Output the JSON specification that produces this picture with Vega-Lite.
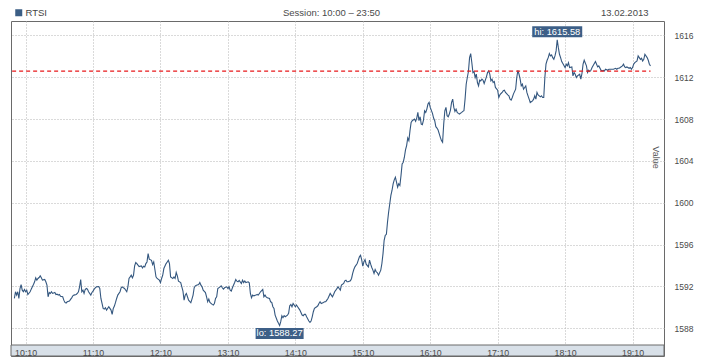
{
  "$schema": "https://vega.github.io/schema/vega-lite/v6.json",
  "width": 653,
  "height": 335,
  "autosize": "none",
  "padding": {"left": 11, "top": 21, "right": 54, "bottom": 4},
  "background": "white",
  "config": {
    "font": "Liberation Sans",
    "view": {"stroke": "#6a6a6a", "strokeWidth": 1}
  },
  "data": {
    "format": {"parse": {"t": "date:'%H:%M'"}},
    "values": [
{"t":"10:00","v":1590.85},{"t":"10:01","v":1591.49},{"t":"10:02","v":1591.17},{"t":"10:03","v":1591.49},{"t":"10:04","v":1590.85},{"t":"10:05","v":1591.80},{"t":"10:06","v":1592.18},{"t":"10:07","v":1591.64},{"t":"10:08","v":1591.49},{"t":"10:09","v":1591.71},
{"t":"10:10","v":1591.49},{"t":"10:11","v":1591.64},{"t":"10:12","v":1591.23},{"t":"10:14","v":1591.49},{"t":"10:15","v":1591.74},{"t":"10:16","v":1591.96},{"t":"10:17","v":1592.18},{"t":"10:18","v":1592.44},{"t":"10:19","v":1592.82},{"t":"10:20","v":1592.60},
{"t":"10:21","v":1592.76},{"t":"10:22","v":1592.85},{"t":"10:23","v":1593.01},{"t":"10:24","v":1592.82},{"t":"10:25","v":1592.60},{"t":"10:27","v":1592.66},{"t":"10:28","v":1592.44},{"t":"10:29","v":1592.12},{"t":"10:30","v":1591.01},{"t":"10:31","v":1591.42},
{"t":"10:32","v":1591.33},{"t":"10:33","v":1591.49},{"t":"10:34","v":1591.33},{"t":"10:36","v":1591.42},{"t":"10:37","v":1591.23},{"t":"10:38","v":1591.26},{"t":"10:39","v":1591.17},{"t":"10:40","v":1591.23},{"t":"10:41","v":1591.07},{"t":"10:43","v":1591.01},
{"t":"10:44","v":1590.69},{"t":"10:45","v":1590.47},{"t":"10:46","v":1590.41},{"t":"10:47","v":1590.53},{"t":"10:49","v":1590.60},{"t":"10:50","v":1590.76},{"t":"10:51","v":1590.91},{"t":"10:52","v":1591.10},{"t":"10:53","v":1591.17},{"t":"10:55","v":1591.23},
{"t":"10:56","v":1591.33},{"t":"10:57","v":1591.49},{"t":"10:58","v":1591.96},{"t":"10:59","v":1592.66},{"t":"11:00","v":1591.49},{"t":"11:01","v":1591.64},{"t":"11:02","v":1591.33},{"t":"11:03","v":1591.71},{"t":"11:04","v":1591.80},{"t":"11:05","v":1591.74},
{"t":"11:06","v":1591.49},{"t":"11:08","v":1591.17},{"t":"11:09","v":1591.42},{"t":"11:10","v":1591.55},{"t":"11:11","v":1591.74},{"t":"11:12","v":1591.87},{"t":"11:13","v":1591.96},{"t":"11:15","v":1591.99},{"t":"11:16","v":1591.80},{"t":"11:17","v":1590.85},
{"t":"11:18","v":1590.37},{"t":"11:19","v":1589.90},{"t":"11:20","v":1589.83},{"t":"11:21","v":1589.96},{"t":"11:22","v":1589.74},{"t":"11:24","v":1590.06},{"t":"11:25","v":1589.90},{"t":"11:26","v":1589.74},{"t":"11:27","v":1589.33},{"t":"11:28","v":1589.90},
{"t":"11:29","v":1590.12},{"t":"11:30","v":1590.47},{"t":"11:31","v":1590.85},{"t":"11:32","v":1591.17},{"t":"11:34","v":1591.49},{"t":"11:35","v":1591.87},{"t":"11:36","v":1591.96},{"t":"11:37","v":1591.87},{"t":"11:38","v":1591.80},{"t":"11:40","v":1591.49},
{"t":"11:41","v":1591.96},{"t":"11:42","v":1592.76},{"t":"11:43","v":1592.91},{"t":"11:44","v":1593.07},{"t":"11:45","v":1592.82},{"t":"11:46","v":1593.07},{"t":"11:47","v":1593.96},{"t":"11:48","v":1594.28},{"t":"11:49","v":1594.18},{"t":"11:50","v":1594.03},
{"t":"11:51","v":1593.90},{"t":"11:53","v":1593.96},{"t":"11:54","v":1593.77},{"t":"11:55","v":1593.93},{"t":"11:56","v":1593.87},{"t":"11:57","v":1594.18},{"t":"11:58","v":1594.34},{"t":"11:59","v":1595.14},{"t":"12:00","v":1594.60},{"t":"12:02","v":1594.50},
{"t":"12:03","v":1594.09},{"t":"12:04","v":1594.34},{"t":"12:05","v":1593.64},{"t":"12:06","v":1592.91},{"t":"12:07","v":1592.76},{"t":"12:09","v":1592.60},{"t":"12:10","v":1592.37},{"t":"12:11","v":1592.76},{"t":"12:12","v":1593.07},{"t":"12:13","v":1593.71},
{"t":"12:15","v":1594.18},{"t":"12:16","v":1594.34},{"t":"12:17","v":1594.50},{"t":"12:18","v":1594.18},{"t":"12:19","v":1592.91},{"t":"12:21","v":1592.76},{"t":"12:22","v":1592.91},{"t":"12:23","v":1592.76},{"t":"12:24","v":1593.33},{"t":"12:25","v":1593.01},
{"t":"12:26","v":1592.50},{"t":"12:28","v":1592.37},{"t":"12:29","v":1591.96},{"t":"12:30","v":1591.55},{"t":"12:31","v":1590.69},{"t":"12:32","v":1591.17},{"t":"12:33","v":1591.33},{"t":"12:34","v":1591.01},{"t":"12:35","v":1590.69},{"t":"12:37","v":1590.44},
{"t":"12:38","v":1590.79},{"t":"12:39","v":1591.17},{"t":"12:40","v":1591.87},{"t":"12:41","v":1592.06},{"t":"12:42","v":1592.12},{"t":"12:44","v":1592.18},{"t":"12:45","v":1592.37},{"t":"12:46","v":1592.12},{"t":"12:47","v":1591.96},{"t":"12:48","v":1591.64},
{"t":"12:50","v":1591.42},{"t":"12:51","v":1591.01},{"t":"12:52","v":1590.53},{"t":"12:53","v":1590.79},{"t":"12:54","v":1590.47},{"t":"12:56","v":1590.28},{"t":"12:57","v":1590.22},{"t":"12:58","v":1590.37},{"t":"12:59","v":1590.85},{"t":"13:00","v":1591.01},
{"t":"13:01","v":1591.80},{"t":"13:03","v":1591.96},{"t":"13:04","v":1592.06},{"t":"13:05","v":1591.87},{"t":"13:06","v":1591.74},{"t":"13:07","v":1591.87},{"t":"13:09","v":1591.96},{"t":"13:10","v":1591.80},{"t":"13:11","v":1591.96},{"t":"13:12","v":1591.64},
{"t":"13:13","v":1591.55},{"t":"13:14","v":1591.87},{"t":"13:16","v":1592.37},{"t":"13:17","v":1592.66},{"t":"13:18","v":1592.50},{"t":"13:19","v":1592.44},{"t":"13:20","v":1592.57},{"t":"13:22","v":1592.28},{"t":"13:23","v":1592.60},{"t":"13:24","v":1592.37},
{"t":"13:25","v":1592.53},{"t":"13:26","v":1592.37},{"t":"13:28","v":1592.44},{"t":"13:29","v":1592.34},{"t":"13:30","v":1591.33},{"t":"13:31","v":1590.91},{"t":"13:32","v":1591.17},{"t":"13:33","v":1591.10},{"t":"13:35","v":1591.17},{"t":"13:36","v":1591.23},
{"t":"13:37","v":1591.17},{"t":"13:38","v":1591.33},{"t":"13:39","v":1591.49},{"t":"13:41","v":1591.71},{"t":"13:42","v":1591.01},{"t":"13:43","v":1591.17},{"t":"13:44","v":1591.01},{"t":"13:45","v":1590.91},{"t":"13:47","v":1590.85},{"t":"13:48","v":1590.53},
{"t":"13:49","v":1590.47},{"t":"13:50","v":1590.06},{"t":"13:51","v":1589.90},{"t":"13:52","v":1589.26},{"t":"13:54","v":1588.69},{"t":"13:55","v":1588.47},{"t":"13:56","v":1588.27,"label":"lo: 1588.27"},{"t":"13:57","v":1588.63},{"t":"13:58","v":1589.20},{"t":"13:59","v":1589.01},
{"t":"14:00","v":1589.20},{"t":"14:01","v":1589.10},{"t":"14:03","v":1589.26},{"t":"14:04","v":1589.42},{"t":"14:05","v":1590.15},{"t":"14:06","v":1590.28},{"t":"14:07","v":1590.06},{"t":"14:08","v":1590.37},{"t":"14:10","v":1590.06},{"t":"14:11","v":1590.22},
{"t":"14:12","v":1590.06},{"t":"14:13","v":1589.90},{"t":"14:14","v":1589.74},{"t":"14:16","v":1589.26},{"t":"14:17","v":1589.20},{"t":"14:18","v":1589.33},{"t":"14:19","v":1589.33},{"t":"14:20","v":1589.10},{"t":"14:22","v":1588.69},{"t":"14:23","v":1588.57},
{"t":"14:24","v":1588.69},{"t":"14:25","v":1589.10},{"t":"14:26","v":1589.58},{"t":"14:27","v":1589.90},{"t":"14:29","v":1590.06},{"t":"14:30","v":1590.15},{"t":"14:31","v":1590.37},{"t":"14:32","v":1590.53},{"t":"14:33","v":1590.37},{"t":"14:35","v":1590.47},
{"t":"14:36","v":1590.53},{"t":"14:37","v":1590.53},{"t":"14:38","v":1590.69},{"t":"14:39","v":1590.85},{"t":"14:41","v":1591.33},{"t":"14:42","v":1591.17},{"t":"14:43","v":1591.01},{"t":"14:44","v":1591.23},{"t":"14:45","v":1591.49},{"t":"14:46","v":1591.64},
{"t":"14:48","v":1591.96},{"t":"14:49","v":1591.80},{"t":"14:50","v":1591.64},{"t":"14:51","v":1592.13},{"t":"14:53","v":1592.29},{"t":"14:54","v":1592.54},{"t":"14:55","v":1592.60},{"t":"14:56","v":1592.44},{"t":"14:57","v":1592.44},{"t":"14:59","v":1592.54},
{"t":"15:00","v":1592.76},{"t":"15:01","v":1593.24},{"t":"15:02","v":1593.62},{"t":"15:03","v":1593.87},{"t":"15:05","v":1594.19},{"t":"15:06","v":1594.51},{"t":"15:07","v":1594.83},{"t":"15:08","v":1594.98},{"t":"15:09","v":1594.57},{"t":"15:10","v":1593.94},
{"t":"15:11","v":1594.35},{"t":"15:12","v":1594.57},{"t":"15:13","v":1594.13},{"t":"15:15","v":1593.87},{"t":"15:16","v":1594.51},{"t":"15:17","v":1594.13},{"t":"15:18","v":1593.81},{"t":"15:19","v":1593.56},{"t":"15:20","v":1593.24},{"t":"15:21","v":1593.62},
{"t":"15:22","v":1593.40},{"t":"15:23","v":1593.30},{"t":"15:24","v":1593.08},{"t":"15:26","v":1593.56},{"t":"15:27","v":1594.19},{"t":"15:28","v":1595.14},{"t":"15:29","v":1596.41},{"t":"15:30","v":1596.89},{"t":"15:31","v":1596.98},{"t":"15:32","v":1598.16},
{"t":"15:33","v":1599.11},{"t":"15:34","v":1599.90},{"t":"15:35","v":1600.70},{"t":"15:36","v":1601.17},{"t":"15:37","v":1601.81},{"t":"15:38","v":1602.19},{"t":"15:39","v":1602.44},{"t":"15:40","v":1601.97},{"t":"15:41","v":1601.49},{"t":"15:42","v":1601.81},
{"t":"15:43","v":1601.65},{"t":"15:44","v":1602.60},{"t":"15:45","v":1603.71},{"t":"15:46","v":1603.87},{"t":"15:47","v":1604.35},{"t":"15:48","v":1605.05},{"t":"15:49","v":1605.46},{"t":"15:50","v":1606.19},{"t":"15:51","v":1605.94},{"t":"15:52","v":1606.89},
{"t":"15:53","v":1607.68},{"t":"15:54","v":1607.84},{"t":"15:56","v":1608.00},{"t":"15:57","v":1607.78},{"t":"15:58","v":1608.09},{"t":"15:59","v":1608.63},{"t":"16:00","v":1607.84},{"t":"16:01","v":1608.22},{"t":"16:02","v":1607.52},{"t":"16:03","v":1607.46},
{"t":"16:04","v":1607.90},{"t":"16:05","v":1608.79},{"t":"16:06","v":1608.63},{"t":"16:07","v":1608.95},{"t":"16:08","v":1609.43},{"t":"16:09","v":1609.59},{"t":"16:10","v":1609.11},{"t":"16:12","v":1608.54},{"t":"16:13","v":1608.09},{"t":"16:14","v":1607.84},
{"t":"16:15","v":1607.27},{"t":"16:16","v":1607.14},{"t":"16:17","v":1606.95},{"t":"16:19","v":1606.25},{"t":"16:20","v":1605.94},{"t":"16:21","v":1605.78},{"t":"16:22","v":1607.52},{"t":"16:23","v":1608.79},{"t":"16:24","v":1609.11},{"t":"16:25","v":1608.32},
{"t":"16:26","v":1608.22},{"t":"16:27","v":1608.48},{"t":"16:28","v":1608.86},{"t":"16:29","v":1609.59},{"t":"16:30","v":1609.90},{"t":"16:31","v":1609.11},{"t":"16:32","v":1608.73},{"t":"16:33","v":1608.95},{"t":"16:34","v":1608.63},{"t":"16:35","v":1608.54},
{"t":"16:36","v":1608.48},{"t":"16:38","v":1608.63},{"t":"16:39","v":1608.73},{"t":"16:40","v":1608.79},{"t":"16:41","v":1609.90},{"t":"16:42","v":1611.33},{"t":"16:43","v":1611.97},{"t":"16:44","v":1612.54},{"t":"16:45","v":1613.87},{"t":"16:46","v":1614.25},
{"t":"16:47","v":1613.40},{"t":"16:48","v":1612.44},{"t":"16:49","v":1612.54},{"t":"16:50","v":1611.97},{"t":"16:51","v":1612.29},{"t":"16:52","v":1611.49},{"t":"16:53","v":1611.17},{"t":"16:54","v":1611.71},{"t":"16:55","v":1611.65},{"t":"16:56","v":1611.81},
{"t":"16:57","v":1611.71},{"t":"16:58","v":1611.40},{"t":"17:00","v":1612.03},{"t":"17:01","v":1612.44},{"t":"17:02","v":1612.60},{"t":"17:03","v":1612.29},{"t":"17:04","v":1611.65},{"t":"17:05","v":1611.81},{"t":"17:06","v":1611.49},{"t":"17:07","v":1611.59},
{"t":"17:08","v":1611.02},{"t":"17:10","v":1610.76},{"t":"17:11","v":1610.06},{"t":"17:12","v":1610.32},{"t":"17:13","v":1610.44},{"t":"17:14","v":1610.54},{"t":"17:15","v":1610.70},{"t":"17:16","v":1610.76},{"t":"17:17","v":1610.54},{"t":"17:19","v":1610.31},
{"t":"17:20","v":1610.22},{"t":"17:21","v":1609.90},{"t":"17:22","v":1609.81},{"t":"17:23","v":1610.06},{"t":"17:24","v":1610.38},{"t":"17:26","v":1610.85},{"t":"17:27","v":1611.97},{"t":"17:28","v":1612.66},{"t":"17:29","v":1612.28},{"t":"17:30","v":1611.81},
{"t":"17:31","v":1611.17},{"t":"17:32","v":1611.33},{"t":"17:33","v":1610.85},{"t":"17:35","v":1611.17},{"t":"17:36","v":1610.54},{"t":"17:37","v":1610.22},{"t":"17:38","v":1609.90},{"t":"17:39","v":1609.58},{"t":"17:41","v":1609.74},{"t":"17:42","v":1609.90},
{"t":"17:43","v":1610.22},{"t":"17:44","v":1609.90},{"t":"17:45","v":1610.54},{"t":"17:46","v":1610.31},{"t":"17:48","v":1610.12},{"t":"17:49","v":1610.22},{"t":"17:50","v":1610.06},{"t":"17:51","v":1610.06},{"t":"17:52","v":1611.97},{"t":"17:53","v":1613.24},
{"t":"17:54","v":1613.62},{"t":"17:55","v":1613.87},{"t":"17:56","v":1614.25},{"t":"17:57","v":1614.03},{"t":"17:58","v":1614.12},{"t":"17:59","v":1613.87},{"t":"18:00","v":1613.71},{"t":"18:01","v":1614.03},{"t":"18:02","v":1614.51},{"t":"18:03","v":1615.58,"label":"hi: 1615.58"},
{"t":"18:04","v":1614.82},{"t":"18:05","v":1614.19},{"t":"18:06","v":1613.87},{"t":"18:07","v":1613.49},{"t":"18:08","v":1613.30},{"t":"18:10","v":1612.92},{"t":"18:11","v":1613.24},{"t":"18:12","v":1613.08},{"t":"18:13","v":1613.39},{"t":"18:14","v":1612.92},
{"t":"18:16","v":1612.98},{"t":"18:17","v":1612.12},{"t":"18:18","v":1612.44},{"t":"18:19","v":1612.28},{"t":"18:20","v":1611.97},{"t":"18:21","v":1612.12},{"t":"18:23","v":1612.28},{"t":"18:24","v":1611.81},{"t":"18:25","v":1612.35},{"t":"18:26","v":1613.24},
{"t":"18:27","v":1613.62},{"t":"18:29","v":1613.08},{"t":"18:30","v":1612.44},{"t":"18:31","v":1612.66},{"t":"18:32","v":1612.54},{"t":"18:33","v":1612.66},{"t":"18:34","v":1612.92},{"t":"18:36","v":1613.30},{"t":"18:37","v":1613.49},{"t":"18:38","v":1613.24},
{"t":"18:39","v":1612.98},{"t":"18:40","v":1613.08},{"t":"18:42","v":1612.66},{"t":"18:43","v":1612.60},{"t":"18:44","v":1612.66},{"t":"18:45","v":1612.60},{"t":"18:46","v":1612.76},{"t":"18:48","v":1612.66},{"t":"18:49","v":1612.76},{"t":"18:51","v":1612.76},
{"t":"18:53","v":1612.76},{"t":"18:55","v":1612.85},{"t":"18:56","v":1612.76},{"t":"18:57","v":1612.85},{"t":"18:58","v":1612.85},{"t":"18:59","v":1612.92},{"t":"19:01","v":1613.08},{"t":"19:02","v":1613.24},{"t":"19:03","v":1612.98},{"t":"19:04","v":1612.92},
{"t":"19:05","v":1612.98},{"t":"19:07","v":1612.85},{"t":"19:08","v":1612.92},{"t":"19:09","v":1612.76},{"t":"19:10","v":1612.92},{"t":"19:11","v":1613.24},{"t":"19:12","v":1613.39},{"t":"19:14","v":1613.55},{"t":"19:15","v":1614.03},{"t":"19:16","v":1613.87},
{"t":"19:17","v":1613.71},{"t":"19:18","v":1613.81},{"t":"19:19","v":1613.55},{"t":"19:20","v":1613.71},{"t":"19:21","v":1614.19},{"t":"19:23","v":1613.87},{"t":"19:24","v":1613.62},{"t":"19:25","v":1613.24},{"t":"19:26","v":1613.08}
    ]
  },
  "resolve": {"axis": {"x": "independent", "y": "independent"}},
  "layer": [
    {
      "data": {"values": [{}]},
      "mark": {"type": "rect", "fill": "#d8e0e8", "stroke": "#6a6a6a", "strokeWidth": 1},
      "encoding": {
        "x": {
          "datum": {"year": 1900, "month": 1, "date": 1, "hours": 9, "minutes": 57}, "type": "temporal",
          "axis": {
            "orient": "bottom", "title": null, "format": "%H:%M", "zindex": 1,
            "values": [
              {"year": 1900, "month": 1, "date": 1, "hours": 10, "minutes": 10},
              {"year": 1900, "month": 1, "date": 1, "hours": 11, "minutes": 10},
              {"year": 1900, "month": 1, "date": 1, "hours": 12, "minutes": 10},
              {"year": 1900, "month": 1, "date": 1, "hours": 13, "minutes": 10},
              {"year": 1900, "month": 1, "date": 1, "hours": 14, "minutes": 10},
              {"year": 1900, "month": 1, "date": 1, "hours": 15, "minutes": 10},
              {"year": 1900, "month": 1, "date": 1, "hours": 16, "minutes": 10},
              {"year": 1900, "month": 1, "date": 1, "hours": 17, "minutes": 10},
              {"year": 1900, "month": 1, "date": 1, "hours": 18, "minutes": 10},
              {"year": 1900, "month": 1, "date": 1, "hours": 19, "minutes": 10}
            ],
            "domain": false, "ticks": false, "tickSize": 0, "grid": false,
            "labelPadding": -1, "labelBaseline": "alphabetic", "labelFontSize": 8.8, "labelColor": "#4a4a4a",
            "labelFont": "Liberation Sans", "labelFlush": false, "labelOverlap": false
          }
        },
        "x2": {"datum": {"year": 1900, "month": 1, "date": 1, "hours": 19, "minutes": 38}},
        "y": {"datum": 1586.40, "type": "quantitative", "axis": null},
        "y2": {"datum": 1585.35}
      }
    },
    {
      "mark": {"type": "line", "strokeWidth": 1.1},
      "encoding": {
        "x": {
          "field": "t", "type": "temporal",
          "scale": {"domain": [{"year": 1900, "month": 1, "date": 1, "hours": 9, "minutes": 57}, {"year": 1900, "month": 1, "date": 1, "hours": 19, "minutes": 38}], "nice": false},
          "axis": {
            "orient": "bottom", "title": null, "labels": false,
            "values": [
              {"year": 1900, "month": 1, "date": 1, "hours": 10, "minutes": 10},
              {"year": 1900, "month": 1, "date": 1, "hours": 11, "minutes": 10},
              {"year": 1900, "month": 1, "date": 1, "hours": 12, "minutes": 10},
              {"year": 1900, "month": 1, "date": 1, "hours": 13, "minutes": 10},
              {"year": 1900, "month": 1, "date": 1, "hours": 14, "minutes": 10},
              {"year": 1900, "month": 1, "date": 1, "hours": 15, "minutes": 10},
              {"year": 1900, "month": 1, "date": 1, "hours": 16, "minutes": 10},
              {"year": 1900, "month": 1, "date": 1, "hours": 17, "minutes": 10},
              {"year": 1900, "month": 1, "date": 1, "hours": 18, "minutes": 10},
              {"year": 1900, "month": 1, "date": 1, "hours": 19, "minutes": 10}
            ],
            "domain": false, "ticks": false, "tickSize": 0,
            "grid": true, "gridColor": "#b4b4b4", "gridDash": [1, 2], "gridWidth": 1
          }
        },
        "y": {
          "field": "v", "type": "quantitative",
          "scale": {"domain": [1585.35, 1617.37], "nice": false, "zero": false},
          "axis": {
            "orient": "right", "values": [1588, 1592, 1596, 1600, 1604, 1608, 1612, 1616], "format": "d",
            "title": "Value", "titleAngle": 90, "titleX": -9, "titleY": 136, "titleFontSize": 9,
            "titleFontWeight": "normal", "titleColor": "#555555", "titleAlign": "center", "titleBaseline": "middle",
            "titleFont": "Liberation Sans",
            "domain": false, "ticks": false, "tickSize": 0, "labelPadding": 10,
            "labelFontSize": 8.5, "labelColor": "#4a4a4a", "labelBaseline": "middle", "labelFont": "Liberation Sans",
            "grid": true, "gridColor": "#b4b4b4", "gridDash": [1, 2], "gridWidth": 1
          }
        },
        "color": {
          "datum": "RTSI",
          "scale": {"range": ["#34577f"]},
          "legend": {
            "orient": "none", "legendX": 3, "legendY": -13, "title": null, "padding": 0,
            "symbolType": "square", "symbolSize": 49, "symbolStrokeWidth": 0,
            "labelFontSize": 9.5, "labelColor": "#444444", "labelOffset": 2, "labelFont": "Liberation Sans",
            "encode": {"symbols": {"update": {"fill": {"value": "#3b5e85"}, "stroke": {"value": "#3b5e85"}, "strokeWidth": {"value": 0}}}}
          }
        }
      }
    },
    {
      "data": {"values": [{}]},
      "mark": {"type": "rule", "color": "#e8191b", "strokeDash": [4, 3], "strokeWidth": 1.3},
      "encoding": {
        "x": {
          "datum": {"year": 1900, "month": 1, "date": 1, "hours": 9, "minutes": 58}, "type": "temporal",
          "axis": {
            "orient": "top", "title": "Session: 10:00 – 23:50", "labels": false, "ticks": false, "domain": false, "grid": false,
            "titleX": 320, "titleY": -6, "titleAlign": "center", "titleBaseline": "alphabetic", "titleAnchor": "middle",
            "titleFontSize": 9.5, "titleFontWeight": "normal", "titleColor": "#4a4a4a", "titleFont": "Liberation Sans"
          }
        },
        "x2": {"datum": {"year": 1900, "month": 1, "date": 1, "hours": 19, "minutes": 26}},
        "y": {"datum": 1612.57, "type": "quantitative", "axis": null}
      }
    },
    {
      "transform": [{"filter": "isValid(datum.label) && datum.v > 1600"}],
      "mark": {"type": "point", "shape": "M-1,-0.54H1V-0.1H-1Z", "size": 2500, "filled": true, "opacity": 1, "color": "#3d5f87", "strokeWidth": 0},
      "encoding": {
        "x": {
          "field": "t", "type": "temporal",
          "axis": {
            "orient": "top", "title": "13.02.2013", "labels": false, "ticks": false, "domain": false, "grid": false,
            "titleX": 637, "titleY": -6, "titleAlign": "right", "titleBaseline": "alphabetic", "titleAnchor": "end",
            "titleFontSize": 9.5, "titleFontWeight": "normal", "titleColor": "#4a4a4a", "titleFont": "Liberation Sans"
          }
        },
        "y": {"field": "v", "type": "quantitative", "axis": null}
      }
    },
    {
      "transform": [{"filter": "isValid(datum.label) && datum.v < 1600"}],
      "mark": {"type": "point", "shape": "M-1,0.104H1V0.5625H-1Z", "size": 2304, "filled": true, "opacity": 1, "color": "#3d5f87", "strokeWidth": 0},
      "encoding": {
        "x": {"field": "t", "type": "temporal", "axis": null},
        "y": {"field": "v", "type": "quantitative", "axis": null}
      }
    },
    {
      "transform": [{"filter": "isValid(datum.label) && datum.v > 1600"}],
      "mark": {"type": "text", "color": "#ffffff", "fontSize": 9.3, "align": "center", "baseline": "middle", "dy": -8, "font": "Liberation Sans"},
      "encoding": {
        "x": {"field": "t", "type": "temporal", "axis": null},
        "y": {"field": "v", "type": "quantitative", "axis": null},
        "text": {"field": "label", "type": "nominal"}
      }
    },
    {
      "transform": [{"filter": "isValid(datum.label) && datum.v < 1600"}],
      "mark": {"type": "text", "color": "#ffffff", "fontSize": 9.3, "align": "center", "baseline": "middle", "dy": 8, "font": "Liberation Sans"},
      "encoding": {
        "x": {"field": "t", "type": "temporal", "axis": null},
        "y": {"field": "v", "type": "quantitative", "axis": null},
        "text": {"field": "label", "type": "nominal"}
      }
    }
  ]
}
